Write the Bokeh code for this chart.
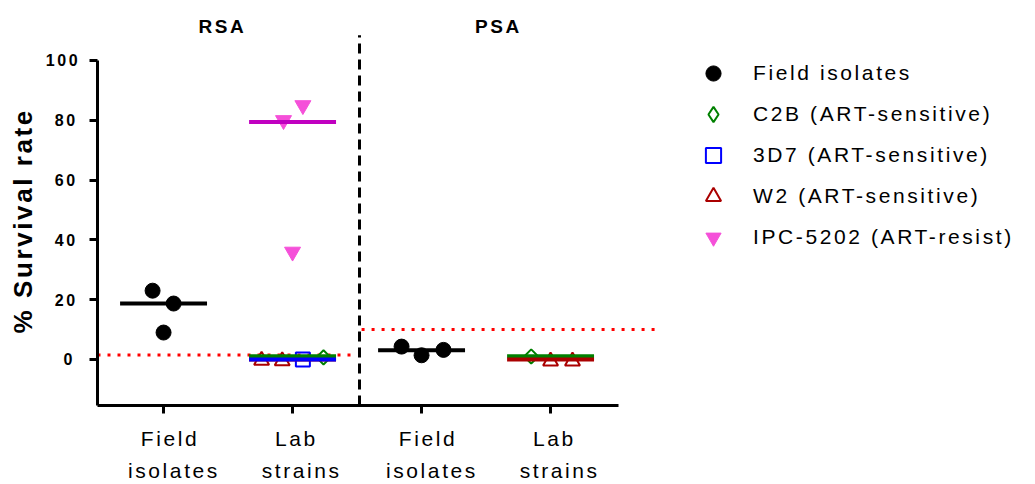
import math
from bokeh.plotting import figure
from bokeh.models import (Legend, LegendItem, Label, FixedTicker, InlineStyleSheet,
                          ColumnDataSource, Title)
from bokeh.embed import file_html
from bokeh.resources import INLINE

# ---------------- data ----------------
group_labels = ["Field\nisolates", "Lab\nstrains", "Field\nisolates", "Lab\nstrains"]
group_pos = [1, 2, 3, 4]
panel_titles = ["RSA", "PSA"]
y_ticks = [0, 20, 40, 60, 80, 100]
y_title = "% Survival rate"

field_group = [1, 1, 1, 3, 3, 3]
field_values = [23.0, 18.7, 9.0, 4.3, 1.4, 3.2]

c2b_group = [2, 4]
c2b_values = [0.7, 1.0]

d3d7_group = [2]
d3d7_values = [0.0]

w2_group = [2, 2, 4, 4]
w2_values = [-0.3, -0.5, -0.6, -0.6]

ipc_group = [2, 2, 2]
ipc_values = [80.0, 85.0, 36.0]

median_group = [1, 2, 2, 2, 2, 3, 4, 4]
median_series = ["field", "ipc", "w2", "c2b", "3d7", "field", "c2b", "w2"]
median_values = [18.7, 79.4, 0.0, 1.1, 0.0, 3.1, 1.1, 0.0]

threshold_values = [1.5, 10.0]  # RSA, PSA cut-off lines

series_names = {
    "field": "Field isolates",
    "c2b": "C2B (ART-sensitive)",
    "3d7": "3D7 (ART-sensitive)",
    "w2": "W2 (ART-sensitive)",
    "ipc": "IPC-5202 (ART-resist)",
}

# ---------------- layout / style ----------------
field_dx = [-0.085, 0.078, 0.0, -0.155, 0.0, 0.17]
c2b_dx = [0.24, -0.15]
d3d7_dx = [0.08]
w2_dx = [-0.24, -0.08, 0.0, 0.17]
ipc_dx = [-0.07, 0.08, 0.0]
median_half = 0.337

point_color = {"field": "#000000", "c2b": "#008000", "3d7": "#0000ff",
               "w2": "#aa0000", "ipc": "#f550d9"}
median_color = {"field": "#000000", "c2b": "#008000", "3d7": "#0000ff",
                "w2": "#aa0000", "ipc": "#c000c0"}
FONT = "Liberation Sans"

X0, X1 = 0.488, 7.759
Y0, Y1 = -15.4, 116.04

p = figure(width=1035, height=484, x_range=(X0, X1), y_range=(Y0, Y1),
           output_backend="svg", toolbar_location=None,
           min_border_left=97, min_border_right=0, min_border_top=12, min_border_bottom=79)
p.stylesheets = [InlineStyleSheet(css=":host { letter-spacing: 2.6px; }")]
p.xgrid.visible = False
p.ygrid.visible = False
p.outline_line_color = None
p.background_fill_color = "white"

# cut-off lines (red dotted)
p.segment(x0=[X0, 2.535], x1=[2.50, 4.81], y0=threshold_values, y1=threshold_values,
          line_color="#ff0000", line_width=3, line_dash="3 7")

# divider between RSA and PSA
p.segment(x0=[2.519], x1=[2.519], y0=[Y0], y1=[108.4],
          line_color="black", line_width=3, line_dash="10 6")

def xs(groups, dx):
    return [g + d for g, d in zip(groups, dx)]

r_field = p.scatter(xs(field_group, field_dx), field_values, marker="circle", size=15,
                    fill_color=point_color["field"], line_color=point_color["field"])
r_c2b = p.scatter(xs(c2b_group, c2b_dx), c2b_values, marker="square", size=10,
                  angle=math.pi / 4, fill_color=None, line_color=point_color["c2b"], line_width=2)
r_c2b_leg = p.scatter([float("nan")], [float("nan")], marker="diamond", size=15,
                      fill_color=None, line_color=point_color["c2b"], line_width=2)
r_3d7 = p.scatter(xs(d3d7_group, d3d7_dx), d3d7_values, marker="square", size=14,
                  fill_color=None, line_color=point_color["3d7"], line_width=2)
r_w2 = p.scatter(xs(w2_group, w2_dx), w2_values, marker="triangle", size=15,
                 fill_color=None, line_color=point_color["w2"], line_width=2)
r_ipc = p.scatter(xs(ipc_group, ipc_dx), ipc_values, marker="inverted_triangle", size=16,
                  fill_color=point_color["ipc"], line_color=point_color["ipc"])

# median bars
msrc = ColumnDataSource(dict(
    x0=[g - median_half for g in median_group],
    x1=[g + median_half for g in median_group],
    y=median_values,
    c=[median_color[s] for s in median_series],
))
p.segment(x0="x0", x1="x1", y0="y", y1="y", line_color="c", line_width=4, source=msrc)

# axes
xa = p.xaxis[0]
xa.ticker = FixedTicker(ticks=group_pos)
xa.major_label_overrides = {g: lab for g, lab in zip(group_pos, group_labels)}
xa.bounds = (X0, 4.527)
ya = p.yaxis[0]
ya.ticker = FixedTicker(ticks=y_ticks)
ya.bounds = (Y0, 100)
ya.major_label_text_font_style = "bold"
ya.major_label_text_font_size = "16px"
ya.major_label_standoff = 17
xa.major_label_text_font_size = "21px"
xa.major_label_standoff = 13
xa.major_label_text_line_height = 1.4
for ax in (xa, ya):
    ax.axis_line_width = 3
    ax.axis_line_color = "black"
    ax.major_tick_line_width = 3
    ax.major_tick_line_color = "black"
    ax.major_tick_out = 8
    ax.major_tick_in = 0
    ax.minor_tick_out = 0
    ax.minor_tick_in = 0
    ax.major_label_text_font = FONT
    ax.major_label_text_color = "black"

# y axis title
p.add_layout(Title(text=y_title, align="left", offset=72, text_font=FONT,
                   text_font_style="bold", text_font_size="26px", text_color="black",
                   standoff=10), "left")

# panel titles
for tx, t in zip([1.426, 3.566], panel_titles):
    p.add_layout(Label(x=tx, y=111.4, text=t, text_align="center", text_baseline="alphabetic",
                       text_font=FONT, text_font_style="bold", text_font_size="19px",
                       text_color="black"))

legend = Legend(items=[
    LegendItem(label=series_names["field"], renderers=[r_field]),
    LegendItem(label=series_names["c2b"], renderers=[r_c2b_leg]),
    LegendItem(label=series_names["3d7"], renderers=[r_3d7]),
    LegendItem(label=series_names["w2"], renderers=[r_w2]),
    LegendItem(label=series_names["ipc"], renderers=[r_ipc]),
], location=(597, 149), orientation="vertical", padding=0, margin=0, spacing=3,
    glyph_width=38, glyph_height=38, label_standoff=21, label_height=38,
    label_text_font=FONT, label_text_font_size="21px", label_text_color="black",
    background_fill_alpha=0, border_line_alpha=0)
p.add_layout(legend)

open("out.html", "w").write(file_html(p, INLINE))
